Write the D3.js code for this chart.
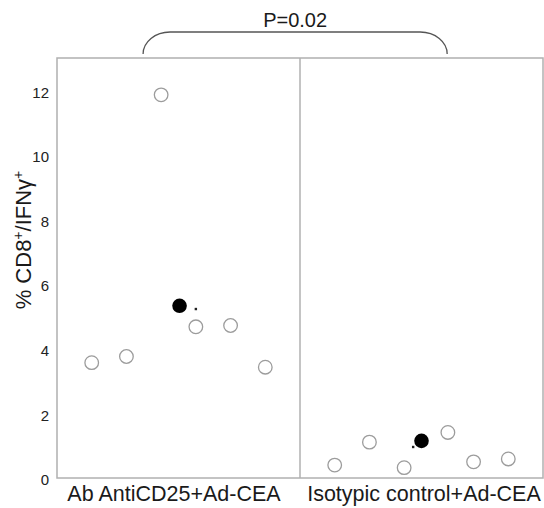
<!DOCTYPE html>
<html lang="en">
<head>
<meta charset="UTF-8">
<title>CD8 IFNg</title>
<script src="https://cdn.jsdelivr.net/npm/d3@7"></script>
<style>
  body { margin: 0; background: #fff; }
  svg { font-family: "Liberation Sans", Arial, sans-serif; }
</style>
</head>
<body>
<div id="chart"></div>
<script>
  // datos
  const groups = ["Ab AntiCD25+Ad-CEA", "Isotypic control+Ad-CEA"];
  const antiCD25Values = [3.57, 3.76, 11.86, 4.68, 4.72, 3.43];
  const antiCD25Slots = [1, 2, 3, 4, 5, 6];
  const isotypicValues = [0.40, 1.11, 0.32, 1.41, 0.50, 0.59];
  const isotypicSlots = [1, 2, 3, 4.26, 5, 6];
  const meanValues = [5.33, 1.15];
  const meanSlots = [3.53, 3.5];
  const markValues = [5.23, 0.96];
  const markSlots = [4.0, 3.26];
  const yTicks = [0, 2, 4, 6, 8, 10, 12];
  const pLabel = "P=0.02";

  const W = 544, H = 508;
  const plotLeft = 57, plotRight = 543, plotTop = 58, plotBottom = 478;
  const slotsPerGroup = 7;
  const labelShift = [-4.5, 2.5];

  const svg = d3.select("#chart").append("svg")
      .attr("width", W)
      .attr("height", H);

  const x = d3.scaleLinear()
      .domain([0, slotsPerGroup * groups.length])
      .range([plotLeft, plotRight]);

  const y = d3.scaleLinear()
      .domain([0, 13])
      .range([plotBottom, plotTop]);

  // marco y divisor
  svg.append("rect")
      .attr("x", x(0))
      .attr("y", y(13))
      .attr("width", x(14) - x(0))
      .attr("height", y(0) - y(13))
      .attr("fill", "none")
      .attr("stroke", "#b0b0b0")
      .attr("stroke-width", 1.5);

  svg.append("line")
      .attr("x1", x(slotsPerGroup)).attr("x2", x(slotsPerGroup))
      .attr("y1", y(13)).attr("y2", y(0))
      .attr("stroke", "#b0b0b0")
      .attr("stroke-width", 1.5);

  // eje y
  const yAxis = svg.append("g")
      .attr("transform", `translate(${plotLeft},2)`)
      .call(d3.axisLeft(y).tickValues(yTicks).tickSize(0).tickPadding(8));
  yAxis.select(".domain").remove();
  yAxis.selectAll("text")
      .attr("font-size", 15)
      .attr("font-family", "Liberation Sans, Arial, sans-serif")
      .attr("fill", "#222");

  // título eje y
  const yTitle = svg.append("text")
      .attr("transform", "translate(31,240) rotate(-90)")
      .attr("text-anchor", "middle")
      .attr("font-size", 22)
      .attr("fill", "#1a1a1a");
  yTitle.append("tspan").text("% CD8");
  yTitle.append("tspan").attr("baseline-shift", "super").attr("font-size", 14).text("+");
  yTitle.append("tspan").text("/IFN\u03B3");
  yTitle.append("tspan").attr("baseline-shift", "super").attr("font-size", 14).text("+");

  // etiquetas de grupos
  svg.selectAll(".group-label")
      .data(groups)
      .enter()
      .append("text")
        .attr("class", "group-label")
        .attr("x", (d, i) => x(i * slotsPerGroup + slotsPerGroup / 2) + labelShift[i])
        .attr("y", 501)
        .attr("text-anchor", "middle")
        .attr("font-size", 21.5)
        .attr("fill", "#1a1a1a")
        .text(d => d);

  // puntos individuales
  const points = [];
  antiCD25Values.forEach((v, i) => points.push({ slot: antiCD25Slots[i], value: v }));
  isotypicValues.forEach((v, i) => points.push({ slot: slotsPerGroup + isotypicSlots[i], value: v }));

  svg.selectAll(".pt")
      .data(points)
      .enter()
      .append("circle")
        .attr("class", "pt")
        .attr("cx", d => x(d.slot))
        .attr("cy", d => y(d.value))
        .attr("r", 6.8)
        .attr("fill", "#fff")
        .attr("stroke", "#9c9c9c")
        .attr("stroke-width", 1.3);

  // medias
  svg.selectAll(".mean")
      .data(meanValues)
      .enter()
      .append("circle")
        .attr("class", "mean")
        .attr("cx", (d, i) => x(i * slotsPerGroup + meanSlots[i]))
        .attr("cy", d => y(d))
        .attr("r", 7.3)
        .attr("fill", "#000");

  // marcas pequeñas
  svg.selectAll(".mark")
      .data(markValues)
      .enter()
      .append("rect")
        .attr("class", "mark")
        .attr("x", (d, i) => x(i * slotsPerGroup + markSlots[i]) - 1.2)
        .attr("y", d => y(d) - 1.2)
        .attr("width", 2.4)
        .attr("height", 2.4)
        .attr("fill", "#222");

  // llave de significancia
  const bx1 = x(2.48), bx2 = x(11.24), byTop = 32, byEnd = 54;
  const rx = 27, ry = byEnd - byTop;
  svg.append("path")
      .attr("d", `M${bx1},${byEnd} A${rx},${ry} 0 0 1 ${bx1 + rx},${byTop} L${bx2 - rx},${byTop} A${rx},${ry} 0 0 1 ${bx2},${byEnd}`)
      .attr("fill", "none")
      .attr("stroke", "#555")
      .attr("stroke-width", 1.3);

  svg.append("text")
      .attr("x", (bx1 + bx2) / 2)
      .attr("y", 27)
      .attr("text-anchor", "middle")
      .attr("font-size", 20)
      .attr("fill", "#1a1a1a")
      .text(pLabel);
</script>
</body>
</html>
